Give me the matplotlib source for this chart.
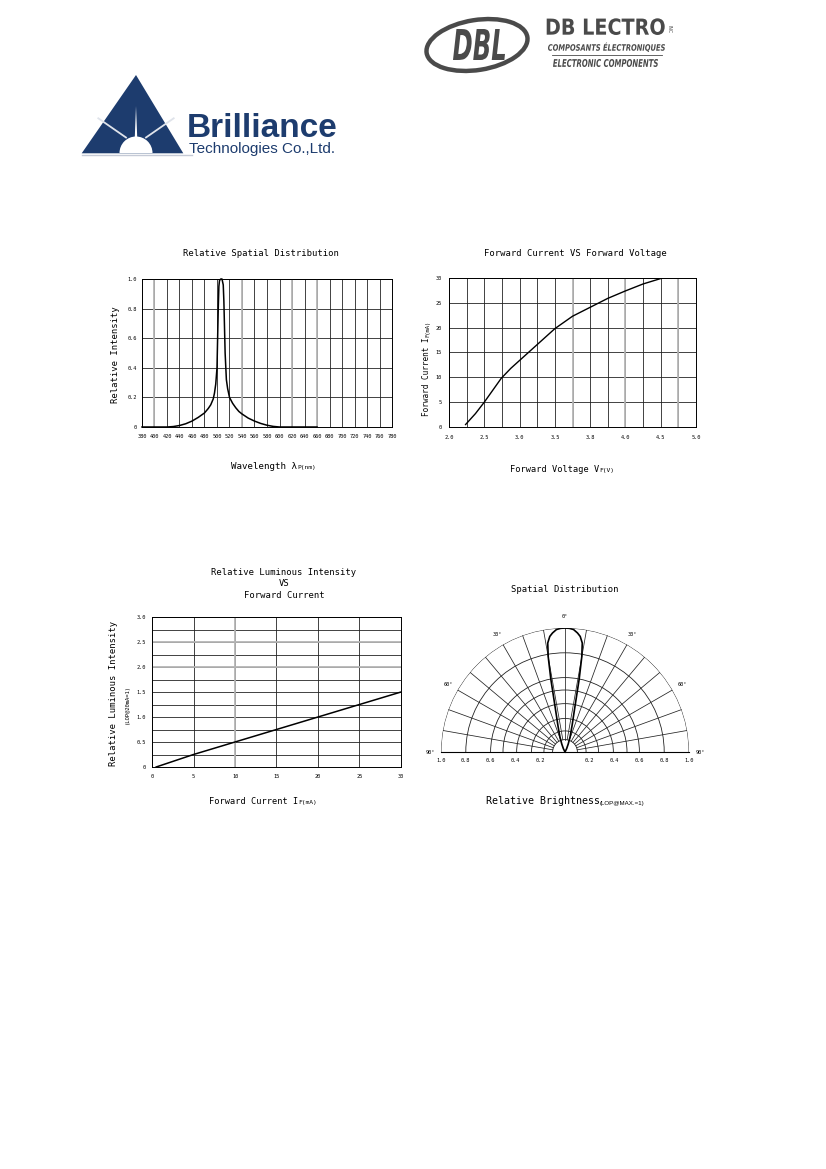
import numpy as np
import matplotlib
matplotlib.use('Agg')
import matplotlib.pyplot as plt
from matplotlib.patches import Polygon, Wedge, Ellipse, PathPatch
from matplotlib.textpath import TextPath
from matplotlib.font_manager import FontProperties
from matplotlib.transforms import Affine2D

# --- chart 1: relative spectral distribution ---
wavelength = [380, 400, 420, 430, 440, 450, 460, 470, 480, 486, 490, 494, 496, 498,
              500, 502, 503, 504, 506, 508, 510, 511, 513, 515, 517, 520, 525, 530,
              535, 540, 550, 560, 570, 580, 590, 600, 620, 640, 660]
rel_intensity = [0, 0, 0, 0.003, 0.01, 0.022, 0.04, 0.065, 0.095, 0.125, 0.15, 0.19, 0.23, 0.29,
                 0.4, 0.8, 0.95, 0.99, 1.0, 1.0, 0.96, 0.85, 0.5, 0.32, 0.26, 0.2, 0.16, 0.13,
                 0.105, 0.088, 0.06, 0.04, 0.024, 0.012, 0.004, 0, 0, 0, 0]
wl_ticks = list(range(380, 781, 20))
ri_ticks = [0, 0.2, 0.4, 0.6, 0.8, 1.0]
ri_labels = ['0', '0.2', '0.4', '0.6', '0.8', '1.0']

# --- chart 2: forward current vs forward voltage (x in label positions) ---
vf_labels = ['2.0', '2.5', '3.0', '3.5', '3.8', '4.0', '4.5', '5.0']
vf_pos = [0.47, 0.75, 1.0, 1.25, 1.48, 1.75, 2.0, 2.5, 3.0, 3.5, 4.0, 4.5, 5.0, 5.5, 6.05]
if_ma = [0.5, 2.7, 5.0, 7.5, 9.8, 11.8, 13.4, 16.6, 19.8, 22.3, 24.1, 25.9, 27.4, 28.8, 30.0]
if_ticks = [0, 5, 10, 15, 20, 25, 30]

# --- chart 3: relative luminous intensity vs forward current ---
if_curr = [0.5, 5, 10, 15, 20, 25, 30]
rel_lum = [0.0, 0.25, 0.5, 0.75, 1.0, 1.25, 1.5]
lum_ticks = [0, 0.5, 1.0, 1.5, 2.0, 2.5, 3.0]
lum_labels = ['0', '0.5', '1.0', '1.5', '2.0', '2.5', '3.0']

# --- chart 4: spatial distribution (one half, symmetric) ---
lobe_deg = [0, 2, 4, 6, 7.5, 9, 10, 11, 12.5, 15, 18.5, 22, 26, 30]
lobe_r = [1.0, 0.998, 0.99, 0.965, 0.94, 0.89, 0.78, 0.6, 0.36, 0.22, 0.13, 0.07, 0.03, 0.0]
rings = [0.1, 0.17, 0.27, 0.39, 0.5, 0.6, 0.8, 1.0]
spoke_deg = list(range(-80, 81, 10))
angle_labels = [-90, -60, -30, 0, 30, 60, 90]
radial_labels = [0.2, 0.4, 0.6, 0.8, 1.0]

W, H = 826, 1169
plt.rcParams['font.family'] = 'DejaVu Sans Mono'
fig = plt.figure(figsize=(W / 100, H / 100), dpi=100)
navy = '#1d3c6e'
grey = '#4a4a4a'


def px_axes(left, top, right, bottom, **kw):
    return fig.add_axes([left / W, 1 - bottom / H, (right - left) / W, (bottom - top) / H], **kw)


bg = fig.add_axes([0, 0, 1, 1])
bg.set_xlim(0, W)
bg.set_ylim(H, 0)
bg.axis('off')


def fit_text(s, x0, y0, w, h, color, prop):
    tp = TextPath((0, 0), s, size=10, prop=prop)
    bb = tp.get_extents()
    tr = Affine2D().translate(-bb.x0, -bb.y0).scale(w / bb.width, -h / bb.height).translate(x0, y0 + h)
    bg.add_patch(PathPatch(tr.transform_path(tp), fc=color, ec='none', lw=0))


def txt(x, y, s, size=6.4, **kw):
    kw.setdefault('ha', 'center')
    kw.setdefault('va', 'center')
    bg.text(x, y, s, fontsize=size, **kw)


# Brilliance logo
bg.add_patch(Polygon([(81.7, 153.3), (136, 75), (183.3, 153.3)], closed=True, fc=navy, ec='none'))
bg.plot([82, 192], [154.5, 154.5], color='#c5cad6', lw=1.0)
bg.add_patch(Polygon([(134.6, 142), (136, 106), (137.4, 142)], closed=True, fc='white', ec='none'))
bg.plot([98.3, 126], [118.3, 137.5], color='#dfe3ea', lw=1.3)
bg.plot([173.7, 146], [118.3, 137.5], color='#dfe3ea', lw=1.3)
bg.add_patch(Wedge((136, 153), 16.5, 180, 360, fc='white', ec='none'))
bg.text(187, 136.7, 'Brilliance', fontsize=24, fontweight='bold', color=navy,
        family='Liberation Sans', ha='left', va='baseline')
bg.text(189, 153.3, 'Technologies Co.,Ltd.', fontsize=11, color=navy,
        family='Liberation Sans', ha='left', va='baseline')

# DB LECTRO logo
bg.add_patch(Ellipse((477, 45), 102, 50, angle=-9, fc='none', ec=grey, lw=3.2))
bi = FontProperties(family='DejaVu Sans', weight='bold', style='italic')
fit_text('DBL', 453, 29, 52, 31, grey, bi)
fit_text('DB LECTRO', 546.7, 18.3, 118, 16.7, grey, FontProperties(family='DejaVu Sans', weight='bold'))
txt(669, 29, 'INC', size=3.3, rotation=-90, color=grey, family='DejaVu Sans')
fit_text('COMPOSANTS ÉLECTRONIQUES', 548, 42.5, 117, 9.5, grey, bi)
bg.plot([552, 662], [54.6, 54.6], color=grey, lw=0.6)
fit_text('ELECTRONIC COMPONENTS', 553, 59, 105, 8, grey, bi)

tick_kw = dict(length=0, labelsize=3.8)
gcol = '#222222'
light = '#b5b5b5'

# Chart 1
ax1 = px_axes(142, 279, 392, 427)
ax1.plot(wavelength, rel_intensity, color='k', lw=1.1, clip_on=False, zorder=3)
ax1.set_xlim(380, 780)
ax1.set_ylim(0, 1.0)
ax1.set_xticks(wl_ticks)
ax1.set_xticklabels([str(v) for v in wl_ticks])
ax1.set_yticks(ri_ticks)
ax1.set_yticklabels(ri_labels)
ax1.grid(True, color=gcol, lw=0.6)
for v in [400, 540, 620, 660]:
    ax1.axvline(v, color=light, lw=1.3, zorder=1.6)
ax1.tick_params(axis='x', pad=5, **tick_kw)
ax1.tick_params(axis='y', pad=3.6, **tick_kw)
txt(261, 253, 'Relative Spatial Distribution')
txt(115, 355, 'Relative Intensity', rotation=90)
txt(297, 469, 'Wavelength λ', size=6.6, ha='right', va='baseline')
txt(297, 469, 'P(nm)', size=4.5, ha='left', va='baseline')

# Chart 2
ax2 = px_axes(449, 278, 696, 427)
ax2.plot(vf_pos, if_ma, color='k', lw=1.0, zorder=3)
ax2.set_xlim(0, 7)
ax2.set_ylim(0, 30)
ax2.set_xticks(range(len(vf_labels)))
ax2.set_xticklabels(vf_labels)
ax2.set_xticks(np.arange(0.5, 7, 1.0), minor=True)
ax2.set_yticks(if_ticks)
ax2.grid(True, which='both', color=gcol, lw=0.6)
for v in [3.5, 5.0, 6.5]:
    ax2.axvline(v, color=light, lw=1.3, zorder=1.6)
ax2.tick_params(axis='x', which='both', pad=5.5, **tick_kw)
ax2.tick_params(axis='y', which='both', pad=5, **tick_kw)
txt(575, 254, 'Forward Current VS Forward Voltage')
txt(429, 337, 'Forward Current I', size=5.5, rotation=90, rotation_mode='anchor',
    ha='right', va='baseline')
txt(429, 337, 'F(mA)', size=4.0, rotation=90, rotation_mode='anchor', ha='left', va='baseline')
txt(599, 472, 'Forward Voltage V', size=6.2, ha='right', va='baseline')
txt(599, 472, 'F(V)', size=4.5, ha='left', va='baseline')

# Chart 3
ax3 = px_axes(152, 617, 401, 767)
ax3.plot(if_curr, rel_lum, color='k', lw=1.1, zorder=3)
ax3.set_xlim(0, 30)
ax3.set_ylim(0, 3.0)
ax3.set_xticks([0, 5, 10, 15, 20, 25, 30])
ax3.set_yticks(lum_ticks)
ax3.set_yticklabels(lum_labels)
ax3.set_yticks(np.arange(0.25, 3.0, 0.5), minor=True)
ax3.grid(True, which='both', color=gcol, lw=0.6)
ax3.axvline(10, color=light, lw=1.3, zorder=1.6)
for v in [2.0, 2.5]:
    ax3.axhline(v, color=light, lw=1.3, zorder=1.6)
ax3.tick_params(axis='x', which='both', pad=5, **tick_kw)
ax3.tick_params(axis='y', which='both', pad=4.3, **tick_kw)
txt(284, 584, 'Relative Luminous Intensity\nVS\nForward Current', linespacing=1.3)
txt(113.5, 693, 'Relative Luminous Intensity', rotation=90)
txt(127.5, 704, '(LOP@20mA=1)', size=4.0, rotation=90)
txt(298.5, 804, 'Forward Current I', size=6.2, ha='right', va='baseline')
txt(298.5, 804, 'F(mA)', size=4.5, ha='left', va='baseline')

for ax in (ax1, ax2, ax3):
    for sp in ax.spines.values():
        sp.set_linewidth(0.7)

# Chart 4 (polar half disc; square box, wedge sits in its middle band)
R = 124
cx, cy = 565, 752
ax4 = px_axes(cx - R, cy - 1.5 * R, cx + R, cy + 0.5 * R, projection='polar')
ax4.set_theta_zero_location('N')
ax4.set_theta_direction(-1)
ax4.set_thetamin(-90)
ax4.set_thetamax(90)
ax4.set_ylim(0, 1.0)
ax4.patch.set_alpha(0)
for sp in ax4.spines.values():
    sp.set_visible(False)
ax4.set_xticks([])
ax4.set_yticks(rings)
ax4.set_yticklabels([])
ax4.yaxis.grid(True, color=gcol, lw=0.6)
for a in spoke_deg:
    th = np.deg2rad(a)
    ax4.plot([th, th], [0.1, 1.0], color=gcol, lw=0.55)
half_t = np.deg2rad(lobe_deg)
theta = np.concatenate([-half_t[::-1], half_t[1:]])
rr = np.concatenate([np.array(lobe_r)[::-1], np.array(lobe_r)[1:]])
ax4.plot(theta, rr, color='k', lw=1.2, zorder=4)
for a in angle_labels:
    ax4.text(np.deg2rad(a), 1.09, f'{abs(a)}°', fontsize=3.8, ha='center', va='center')
for r in radial_labels:
    for side in (-90, 90):
        ax4.annotate(f'{r:.1f}', xy=(np.deg2rad(side), r), xytext=(0, -6),
                     textcoords='offset points', fontsize=3.8, ha='center', va='center')
txt(564.5, 589, 'Spatial Distribution')
txt(600, 804.5, 'Relative Brightness', size=7.2, ha='right', va='baseline')
txt(600, 804.5, '(LOP@MAX.=1)', size=4.4, ha='left', va='baseline', family='Liberation Sans')

fig.savefig('out.png', dpi=100)
